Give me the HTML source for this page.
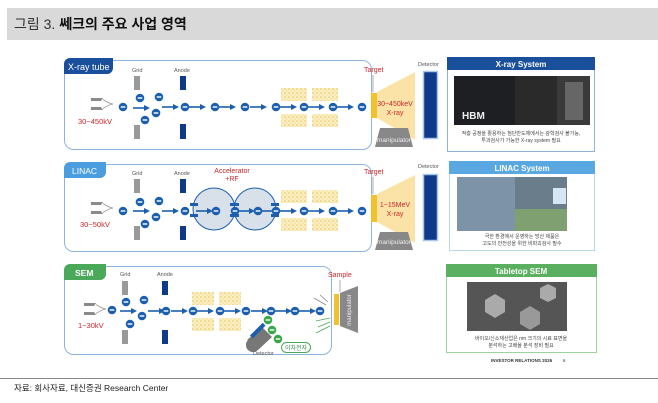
<!DOCTYPE html>
<html><head><meta charset="utf-8"><style>
body{margin:0;width:658px;height:403px;background:#fff;overflow:hidden;font-family:"Liberation Sans","Noto Sans CJK KR",sans-serif}
svg{position:absolute;left:0;top:0}
text{font-family:"Liberation Sans","Noto Sans CJK KR",sans-serif}
</style></head><body>
<svg width="658" height="403" viewBox="0 0 658 403">
<defs>
<g id="e"><circle r="4.3" fill="#1b5fae"/><rect x="-2.3" y="-0.7" width="4.6" height="1.4" fill="#fff"/></g>
<g id="eg"><circle r="4.3" fill="#3aa64a"/><rect x="-2.3" y="-0.7" width="4.6" height="1.4" fill="#fff"/></g>
<g id="ar"><line x1="0" y1="0" x2="13" y2="0" stroke="#1b5fae" stroke-width="1.6"/><path d="M11,-3 L17,0 L11,3Z" fill="#1b5fae"/></g>
<pattern id="dots" width="4" height="4" patternUnits="userSpaceOnUse"><rect width="4" height="4" fill="#fbeec0"/><circle cx="1" cy="1" r="0.8" fill="#e6c660"/><circle cx="3" cy="3" r="0.6" fill="#f0d888"/></pattern>
<g id="cath"><path d="M0,0 h12 l-2,3 h-10z M0,12 h12 l-2,-3 h-10z" fill="#8a8a8a"/><path d="M12,1.5 q6,4 10,4.5 q-4,0.5 -10,4.5" fill="none" stroke="#999" stroke-width="0.8"/></g>
</defs>

<!-- header -->
<rect x="7" y="8" width="651" height="32" fill="#d9d9d9"/>
<text x="14" y="29" font-size="14" fill="#333">그림 3. <tspan font-weight="bold" fill="#111">쎄크의 주요 사업 영역</tspan></text>

<!-- Panel 1 -->
<rect x="64.5" y="60.5" width="307" height="89" rx="9" fill="#fff" stroke="#8fb4dc" stroke-width="1"/>
<path d="M64,74 V64 a6,6 0 0 1 6,-6 H113 V68 a6,6 0 0 1 -6,6Z" fill="#1a4f9c"/>
<text x="68" y="70" font-size="9" fill="#fff">X-ray tube</text>
<text x="132" y="72" font-size="5.5" fill="#555">Grid</text>
<text x="174" y="72" font-size="5.5" fill="#555">Anode</text>
<rect x="134" y="76" width="6" height="14" fill="#999"/><rect x="134" y="125" width="6" height="14" fill="#999"/>
<rect x="180" y="76" width="6" height="14" fill="#0f3a8a"/><rect x="180" y="124" width="6" height="15" fill="#0f3a8a"/>
<use href="#cath" x="91" y="98"/>
<text x="78" y="124" font-size="7.5" fill="#c8262c">30~450kV</text>
<use href="#e" x="123" y="107"/><use href="#e" x="140" y="98"/><use href="#e" x="159" y="97"/><use href="#e" x="156" y="113"/><use href="#e" x="145" y="120"/>
<use href="#ar" x="133" y="108"/><use href="#ar" x="162" y="107"/>
<use href="#e" x="185" y="107"/><use href="#ar" x="189" y="107"/><use href="#e" x="215" y="107"/><use href="#ar" x="219" y="107"/>
<use href="#e" x="245" y="107"/><use href="#ar" x="250" y="107"/><use href="#e" x="276" y="107"/><use href="#ar" x="280" y="107"/>
<use href="#e" x="304" y="107"/><use href="#ar" x="308" y="107"/><use href="#e" x="333" y="107"/><use href="#ar" x="337" y="107"/><use href="#e" x="362" y="107"/>
<rect x="281" y="88" width="26" height="13" fill="url(#dots)"/><rect x="312" y="88" width="26" height="13" fill="url(#dots)"/>
<rect x="281" y="114" width="26" height="13" fill="url(#dots)"/><rect x="312" y="114" width="26" height="13" fill="url(#dots)"/>
<text x="364" y="72" font-size="7" fill="#c8262c">Target</text>
<line x1="373" y1="75" x2="373" y2="92" stroke="#777" stroke-width="0.6"/>
<path d="M377,92 L415,72 V140 L377,118Z" fill="#fbe3a8"/>
<rect x="371" y="93" width="6" height="25" fill="#f2c12e"/>
<path d="M380,128 H408 L413,147 H375Z" fill="#888"/>
<text x="377" y="142" font-size="6.5" fill="#eee">manipulator</text>
<text x="395" y="106" font-size="7" fill="#c8262c" text-anchor="middle">30~450keV</text>
<text x="395" y="115" font-size="7" fill="#c8262c" text-anchor="middle">X-ray</text>
<text x="418" y="66" font-size="5.5" fill="#555">Detector</text>
<rect x="423.5" y="71.5" width="14" height="67" fill="#0f3a8a" stroke="#a8c8ec" stroke-width="1.5"/>

<!-- Panel 2 -->
<rect x="64.5" y="164.5" width="307" height="87" rx="9" fill="#fff" stroke="#8fb4dc" stroke-width="1"/>
<path d="M64,178 V168 a6,6 0 0 1 6,-6 H106 V172 a6,6 0 0 1 -6,6Z" fill="#4a9ee0"/>
<text x="72" y="174" font-size="8.5" fill="#fff">LINAC</text>
<text x="132" y="175" font-size="5.5" fill="#555">Grid</text>
<text x="174" y="175" font-size="5.5" fill="#555">Anode</text>
<rect x="134" y="179" width="6" height="14" fill="#999"/><rect x="134" y="226" width="6" height="14" fill="#999"/>
<rect x="180" y="179" width="6" height="14" fill="#0f3a8a"/><rect x="180" y="226" width="6" height="14" fill="#0f3a8a"/>
<use href="#cath" x="91" y="202"/>
<text x="80" y="227" font-size="7.5" fill="#c8262c">30~50kV</text>
<use href="#e" x="123" y="211"/><use href="#e" x="140" y="202"/><use href="#e" x="159" y="201"/><use href="#e" x="156" y="217"/><use href="#e" x="145" y="224"/>
<use href="#ar" x="133" y="211"/><use href="#ar" x="162" y="211"/><use href="#e" x="185" y="211"/>
<circle cx="214" cy="209" r="21" fill="#d8e0ea" stroke="#1b5fae" stroke-width="1"/>
<circle cx="255" cy="209" r="21" fill="#d8e0ea" stroke="#1b5fae" stroke-width="1"/>
<rect x="190" y="203" width="8" height="3" fill="#1b5fae"/><rect x="190" y="214" width="8" height="3" fill="#1b5fae"/>
<rect x="230" y="203" width="9" height="3" fill="#1b5fae"/><rect x="230" y="214" width="9" height="3" fill="#1b5fae"/>
<rect x="271" y="203" width="8" height="3" fill="#1b5fae"/><rect x="271" y="214" width="8" height="3" fill="#1b5fae"/>
<use href="#ar" x="196" y="211"/><use href="#e" x="216" y="211"/><use href="#e" x="235" y="211"/><use href="#ar" x="238" y="211"/><use href="#e" x="258" y="211"/>
<use href="#ar" x="262" y="211"/><use href="#e" x="276" y="211"/><use href="#ar" x="280" y="211"/><use href="#e" x="304" y="211"/><use href="#ar" x="308" y="211"/><use href="#e" x="333" y="211"/><use href="#ar" x="337" y="211"/><use href="#e" x="362" y="211"/>
<text x="232" y="173" font-size="7" fill="#c8262c" text-anchor="middle">Accelerator</text>
<text x="232" y="181" font-size="7" fill="#c8262c" text-anchor="middle">+RF</text>
<rect x="281" y="190" width="26" height="13" fill="url(#dots)"/><rect x="312" y="190" width="26" height="13" fill="url(#dots)"/>
<rect x="281" y="218" width="26" height="13" fill="url(#dots)"/><rect x="312" y="218" width="26" height="13" fill="url(#dots)"/>
<text x="364" y="174" font-size="7" fill="#c8262c">Target</text>
<line x1="373" y1="177" x2="373" y2="194" stroke="#777" stroke-width="0.6"/>
<path d="M377,194 L415,175 V243 L377,222Z" fill="#fbe3a8"/>
<rect x="371" y="195" width="6" height="27" fill="#f2c12e"/>
<path d="M380,232 H408 L413,250 H375Z" fill="#888"/>
<text x="377" y="244" font-size="6.5" fill="#eee">manipulator</text>
<text x="395" y="207" font-size="7" fill="#c8262c" text-anchor="middle">1~15MeV</text>
<text x="395" y="216" font-size="7" fill="#c8262c" text-anchor="middle">X-ray</text>
<text x="418" y="168" font-size="5.5" fill="#555">Detector</text>
<rect x="423.5" y="174.5" width="14" height="66" fill="#0f3a8a" stroke="#a8c8ec" stroke-width="1.5"/>

<!-- Panel 3 -->
<rect x="64.5" y="266.5" width="267" height="88" rx="9" fill="#fff" stroke="#8fb4dc" stroke-width="1"/>
<path d="M64,280 V270 a6,6 0 0 1 6,-6 H106 V274 a6,6 0 0 1 -6,6Z" fill="#4aa85a"/>
<text x="75" y="276" font-size="8.5" fill="#fff" font-weight="bold">SEM</text>
<text x="120" y="276" font-size="5.5" fill="#555">Grid</text>
<text x="157" y="276" font-size="5.5" fill="#555">Anode</text>
<rect x="122" y="281" width="6" height="14" fill="#999"/><rect x="122" y="330" width="6" height="14" fill="#999"/>
<rect x="162" y="281" width="6" height="14" fill="#0f3a8a"/><rect x="162" y="330" width="6" height="14" fill="#0f3a8a"/>
<use href="#cath" x="84" y="303"/>
<text x="78" y="328" font-size="7.5" fill="#c8262c">1~30kV</text>
<use href="#e" x="112" y="310"/><use href="#e" x="126" y="302"/><use href="#e" x="144" y="300"/><use href="#e" x="142" y="316"/><use href="#e" x="130" y="324"/>
<use href="#ar" x="120" y="311"/><use href="#ar" x="148" y="311"/><use href="#e" x="166" y="311"/>
<use href="#ar" x="171" y="311"/><use href="#e" x="193" y="311"/><use href="#ar" x="197" y="311"/><use href="#e" x="220" y="311"/><use href="#ar" x="224" y="311"/>
<use href="#e" x="246" y="311"/><use href="#ar" x="251" y="311"/><use href="#e" x="271" y="311"/><use href="#ar" x="275" y="311"/><use href="#e" x="295" y="311"/><use href="#ar" x="299" y="311"/><use href="#e" x="320" y="311"/>
<rect x="192" y="292" width="22" height="13" fill="url(#dots)"/><rect x="219" y="292" width="22" height="13" fill="url(#dots)"/>
<rect x="192" y="318" width="22" height="13" fill="url(#dots)"/><rect x="219" y="318" width="22" height="13" fill="url(#dots)"/>
<text x="328" y="277" font-size="7" fill="#c8262c">Sample</text>
<line x1="340" y1="280" x2="340" y2="292" stroke="#777" stroke-width="0.6"/>
<path d="M340,293 L358,286 V333 L340,326Z" fill="#888"/>
<text x="351" y="310" font-size="6" fill="#eee" transform="rotate(-90 351 310)" text-anchor="middle">manipulator</text>
<rect x="334" y="294" width="5" height="31" fill="#f2c12e"/>
<line x1="328" y1="302" x2="320" y2="295" stroke="#888" stroke-width="0.8"/><line x1="326" y1="305" x2="314" y2="298" stroke="#888" stroke-width="0.8"/>
<line x1="330" y1="318" x2="316" y2="321" stroke="#4aa85a" stroke-width="0.8"/><line x1="330" y1="322" x2="318" y2="327" stroke="#4aa85a" stroke-width="0.8"/><line x1="330" y1="326" x2="316" y2="333" stroke="#4aa85a" stroke-width="0.8"/>
<use href="#eg" x="268" y="320"/><use href="#eg" x="272" y="330"/><use href="#eg" x="278" y="339"/>
<path d="M247,340 L262,327 L272,337 L258,350 a5,5 0 0 1 -10,-10Z" fill="#777"/>
<rect x="256" y="325" width="4" height="18" fill="#1b5fae" transform="rotate(45 262 332)"/>
<text x="253" y="355" font-size="5.5" fill="#555">Detector</text>
<rect x="281.5" y="342.5" width="29" height="10" rx="5" fill="#fff" stroke="#4aa85a"/>
<text x="296" y="350" font-size="6" fill="#3a8a4a" text-anchor="middle">이차전자</text>

<!-- Right boxes -->
<rect x="447.5" y="57.5" width="147" height="94" fill="#fff" stroke="#8fb4dc"/>
<rect x="447" y="57" width="148" height="13" fill="#1a4f9c"/>
<text x="521" y="67" font-size="8" fill="#fff" font-weight="bold" text-anchor="middle">X-ray System</text>
<rect x="454" y="76" width="61" height="49" fill="#1e1f22"/><rect x="515" y="76" width="42" height="49" fill="#2a2a2a"/><rect x="557" y="76" width="33" height="49" fill="#3a3a3a"/>
<rect x="565" y="82" width="18" height="38" fill="#666"/>
<text x="462" y="119" font-size="10" fill="#eee" font-weight="bold">HBM</text>
<text x="521" y="135" font-size="5" fill="#444" text-anchor="middle">적층 공정을 활용하는 첨단반도체에서는 광학검사 불가능,</text>
<text x="521" y="142" font-size="5" fill="#444" text-anchor="middle">투과검사가 가능한 X-ray system 필요</text>

<rect x="449.5" y="161.5" width="145" height="89" fill="#fff" stroke="#b8d8f0"/>
<rect x="449" y="161" width="146" height="13" fill="#5aa8e2"/>
<text x="522" y="171" font-size="8" fill="#fff" font-weight="bold" text-anchor="middle">LINAC System</text>
<rect x="457" y="177" width="58" height="54" fill="#7c93a8"/><rect x="515" y="177" width="52" height="32" fill="#6a7d8a"/><rect x="515" y="209" width="52" height="22" fill="#7fa070"/>
<rect x="553" y="188" width="13" height="16" fill="#d6e6f2"/>
<text x="522" y="238" font-size="5" fill="#444" text-anchor="middle">극한 환경에서 운영하는 방산 제품은</text>
<text x="522" y="245" font-size="5" fill="#444" text-anchor="middle">고도의 안전성을 위한 비파괴검사 필수</text>

<rect x="446.5" y="264.5" width="150" height="88" fill="#fff" stroke="#9ad2a0"/>
<rect x="446" y="264" width="151" height="13" fill="#5ab060"/>
<text x="521" y="274" font-size="8" fill="#fff" font-weight="bold" text-anchor="middle">Tabletop SEM</text>
<rect x="467" y="282" width="100" height="49" fill="#555"/>
<polygon points="485,300 495,294 505,300 505,312 495,318 485,312" fill="#aaa"/>
<polygon points="520,312 530,306 540,312 540,324 530,330 520,324" fill="#999"/>
<polygon points="540,288 548,284 556,288 556,298 548,302 540,298" fill="#aaa"/>
<text x="521" y="340" font-size="5" fill="#444" text-anchor="middle">바이오/신소재산업은 nm 크기의 시료 표면을</text>
<text x="521" y="347" font-size="5" fill="#444" text-anchor="middle">분석하는 고배율 분석 장비 필요</text>
<text x="491" y="362" font-size="4.5" fill="#333" font-weight="bold">INVESTOR RELATIONS 2026</text><text x="563" y="362" font-size="4.5" fill="#333">6</text>

<!-- footer -->
<line x1="0" y1="378.5" x2="658" y2="378.5" stroke="#888" stroke-width="1"/>
<text x="14" y="391" font-size="8.5" fill="#222">자료: 회사자료, 대신증권 Research Center</text>
</svg>
</body></html>
